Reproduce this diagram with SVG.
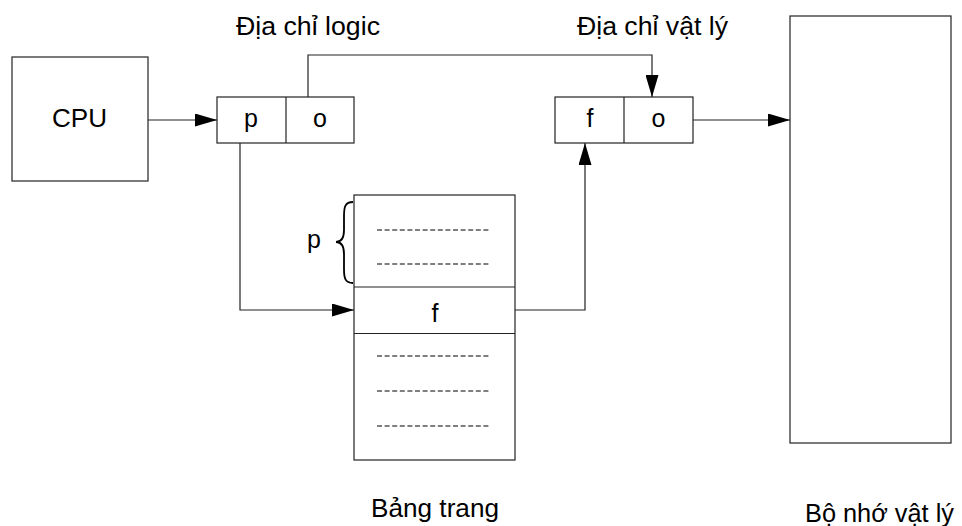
<svg xmlns="http://www.w3.org/2000/svg" width="962" height="526" viewBox="0 0 962 526">
<style>
.box{fill:#fff;stroke:#222;stroke-width:1.2}
.ln{fill:none;stroke:#222;stroke-width:1.2}
.dash{stroke:#555;stroke-width:1.3;stroke-dasharray:5 2.6}
text{font-family:"Liberation Sans",Arial,sans-serif;font-size:25px;fill:#000}
.c{text-anchor:middle}
</style>
<defs>
<marker id="arr" markerUnits="userSpaceOnUse" markerWidth="22" markerHeight="13" refX="22" refY="6.5" orient="auto">
<path d="M0,0 L22,6.5 L0,13 z" fill="#000"/>
</marker>
</defs>
<rect width="962" height="526" fill="#fff"/>
<g id="connectors">
<path class="ln" d="M148,120 H217" marker-end="url(#arr)"/>
<path class="ln" d="M308,97 V55 H652 V97" marker-end="url(#arr)"/>
<path class="ln" d="M240,143 V310 H354" marker-end="url(#arr)"/>
<path class="ln" d="M515,310 H585 V143" marker-end="url(#arr)"/>
<path class="ln" d="M693,120 H790" marker-end="url(#arr)"/>
</g>
<g id="cpu">
<rect class="box" x="12" y="57" width="136" height="124"/>
<text class="c" x="79.5" y="127" textLength="55" lengthAdjust="spacingAndGlyphs">CPU</text>
</g>
<g id="logical-address">
<rect class="box" x="217" y="97" width="137" height="46"/>
<line class="ln" x1="286" y1="97" x2="286" y2="143"/>
<text class="c" x="251" y="127">p</text>
<text class="c" x="320" y="127">o</text>
<text x="236" y="35" textLength="144" lengthAdjust="spacingAndGlyphs">Địa chỉ logic</text>
</g>
<g id="physical-address">
<rect class="box" x="555" y="97" width="138" height="46"/>
<line class="ln" x1="624" y1="97" x2="624" y2="143"/>
<text class="c" x="590" y="127">f</text>
<text class="c" x="658.5" y="127">o</text>
<text x="577" y="35" textLength="151" lengthAdjust="spacingAndGlyphs">Địa chỉ vật lý</text>
</g>
<g id="page-table">
<rect class="box" x="354" y="195" width="161" height="265"/>
<line class="ln" x1="354" y1="287" x2="515" y2="287"/>
<line class="ln" x1="354" y1="333.5" x2="515" y2="333.5"/>
<line class="dash" x1="377" y1="230" x2="490" y2="230"/>
<line class="dash" x1="377" y1="264" x2="490" y2="264"/>
<line class="dash" x1="377" y1="356" x2="490" y2="356"/>
<line class="dash" x1="377" y1="391" x2="490" y2="391"/>
<line class="dash" x1="377" y1="426" x2="490" y2="426"/>
<text class="c" x="435" y="322">f</text>
<path fill="none" stroke="#000" stroke-width="1.8" d="M353,202 C345,202 344,207 344,216 L344,230 C344,238 342,242 336,242 C342,242 344,246 344,254 L344,269 C344,278 345,283 353,283"/>
<text class="c" x="314" y="248">p</text>
<text x="371" y="517" textLength="128" lengthAdjust="spacingAndGlyphs">Bảng trang</text>
</g>
<g id="physical-memory">
<rect class="box" x="790" y="16" width="161" height="427"/>
<text x="805" y="522" textLength="149" lengthAdjust="spacingAndGlyphs">Bộ nhớ vật lý</text>
</g>
</svg>
